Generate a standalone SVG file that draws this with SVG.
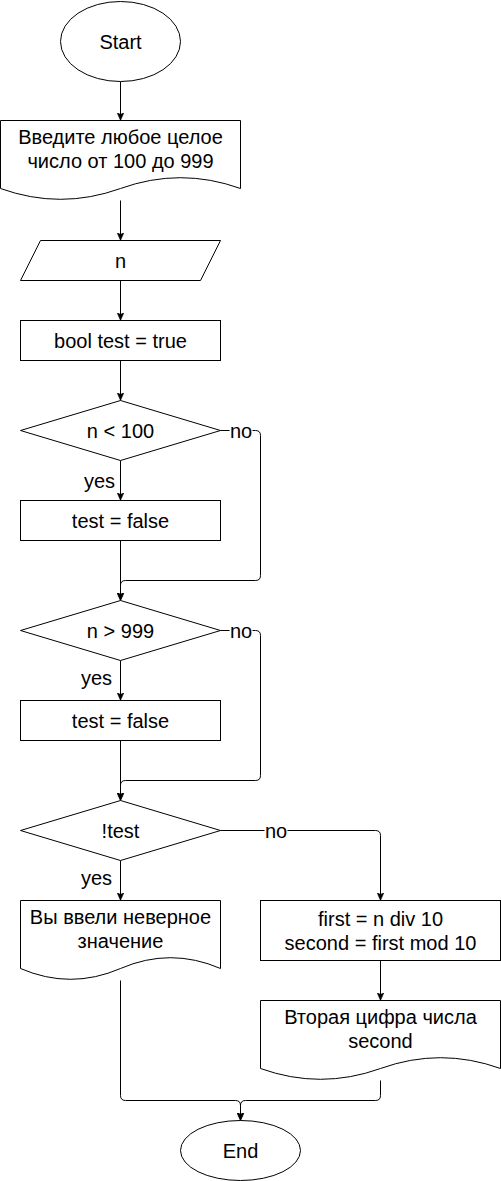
<svg xmlns="http://www.w3.org/2000/svg" width="501" height="1181" viewBox="0 0 501 1181">
<style>
.s{fill:#fff;stroke:#000;stroke-width:1}
.t{font-family:"Liberation Sans",Arial,Helvetica,sans-serif;font-size:20px;fill:#000;text-anchor:middle}
.e{fill:none;stroke:#000;stroke-width:1}
.lb{fill:#fff;stroke:none}
</style>
<defs>
<marker id="arr" markerUnits="userSpaceOnUse" viewBox="0 0 8 7" refX="8" refY="3.5" markerWidth="8" markerHeight="7" orient="auto">
<path d="M0,0 L8,3.5 L0,7 L2,3.5 Z" fill="#000" stroke="#000" stroke-width="0.5"/>
</marker>
</defs>
<rect x="0" y="0" width="501" height="1181" fill="#fff"/>
<g transform="translate(0.5,0.5)">
<g id="connectors">
<path class="e" d="M120,81 L120,120" marker-end="url(#arr)"/>
<path class="e" d="M120,200 L120,240" marker-end="url(#arr)"/>
<path class="e" d="M120,280 L120,320" marker-end="url(#arr)"/>
<path class="e" d="M120,360 L120,400" marker-end="url(#arr)"/>
<path class="e" d="M120,460 L120,500" marker-end="url(#arr)"/>
<path class="e" d="M120,540 L120,600" marker-end="url(#arr)"/>
<path class="e" d="M220,430 L255,430 Q260,430 260,435 L260,575 Q260,580 255,580 L125,580 Q120,580 120,585 L120,600" marker-end="url(#arr)"/>
<path class="e" d="M120,660 L120,700" marker-end="url(#arr)"/>
<path class="e" d="M120,740 L120,800" marker-end="url(#arr)"/>
<path class="e" d="M220,630 L255,630 Q260,630 260,635 L260,775 Q260,780 255,780 L125,780 Q120,780 120,785 L120,800" marker-end="url(#arr)"/>
<path class="e" d="M120,860 L120,900" marker-end="url(#arr)"/>
<path class="e" d="M220,830 L375,830 Q380,830 380,835 L380,900" marker-end="url(#arr)"/>
<path class="e" d="M380,960 L380,1000" marker-end="url(#arr)"/>
<path class="e" d="M120,980 L120,1095 Q120,1100 125,1100 L235,1100 Q240,1100 240,1105 L240,1120" marker-end="url(#arr)"/>
<path class="e" d="M380,1080 L380,1095 Q380,1100 375,1100 L245,1100 Q240,1100 240,1105 L240,1120" marker-end="url(#arr)"/>
<rect class="lb" x="229" y="421" width="23" height="19"/>
<text class="t" x="240.5" y="437">no</text>
<rect class="lb" x="229" y="621" width="23" height="19"/>
<text class="t" x="240.5" y="637">no</text>
<rect class="lb" x="264" y="821" width="23" height="19"/>
<text class="t" x="275.5" y="837">no</text>
<text class="t" x="99" y="487">yes</text>
<text class="t" x="96" y="684">yes</text>
<text class="t" x="96" y="884">yes</text>
</g>
<g id="start">
<ellipse class="s" cx="120" cy="41" rx="60" ry="40"/>
<text class="t" x="120" y="48">Start</text>
</g>
<g id="prompt">
<path class="s" d="M0,120 L240,120 L240,188 Q180,166.4 120,188 Q60,209.6 0,188 Z"/>
<text class="t" x="120" y="143">Введите любое целое</text>
<text class="t" x="120" y="167">число от 100 до 999</text>
</g>
<g id="input">
<path class="s" d="M40,240 L220,240 L200,280 L20,280 Z"/>
<text class="t" x="120" y="267">n</text>
</g>
<g id="init">
<rect class="s" x="20" y="320" width="200" height="40"/>
<text class="t" x="120" y="347">bool test = true</text>
</g>
<g id="cond1">
<path class="s" d="M120,400 L220,430 L120,460 L20,430 Z"/>
<text class="t" x="120" y="437">n &lt; 100</text>
</g>
<g id="set1">
<rect class="s" x="20" y="500" width="200" height="40"/>
<text class="t" x="120" y="527">test = false</text>
</g>
<g id="cond2">
<path class="s" d="M120,600 L220,630 L120,660 L20,630 Z"/>
<text class="t" x="120" y="637">n &gt; 999</text>
</g>
<g id="set2">
<rect class="s" x="20" y="700" width="200" height="40"/>
<text class="t" x="120" y="727">test = false</text>
</g>
<g id="cond3">
<path class="s" d="M120,800 L220,830 L120,860 L20,830 Z"/>
<text class="t" x="120" y="837">!test</text>
</g>
<g id="error">
<path class="s" d="M20,900 L220,900 L220,968 Q170,946.4 120,968 Q70,989.6 20,968 Z"/>
<text class="t" x="120" y="923">Вы ввели неверное</text>
<text class="t" x="120" y="947">значение</text>
</g>
<g id="calc">
<rect class="s" x="260" y="900" width="240" height="60"/>
<text class="t" x="380" y="925">first = n div 10</text>
<text class="t" x="380" y="949">second = first mod 10</text>
</g>
<g id="output">
<path class="s" d="M260,1000 L500,1000 L500,1068 Q440,1046.4 380,1068 Q320,1089.6 260,1068 Z"/>
<text class="t" x="380" y="1023">Вторая цифра числа</text>
<text class="t" x="380" y="1047">second</text>
</g>
<g id="end">
<ellipse class="s" cx="240" cy="1150" rx="60" ry="30"/>
<text class="t" x="240" y="1157">End</text>
</g>
</g>
</svg>
